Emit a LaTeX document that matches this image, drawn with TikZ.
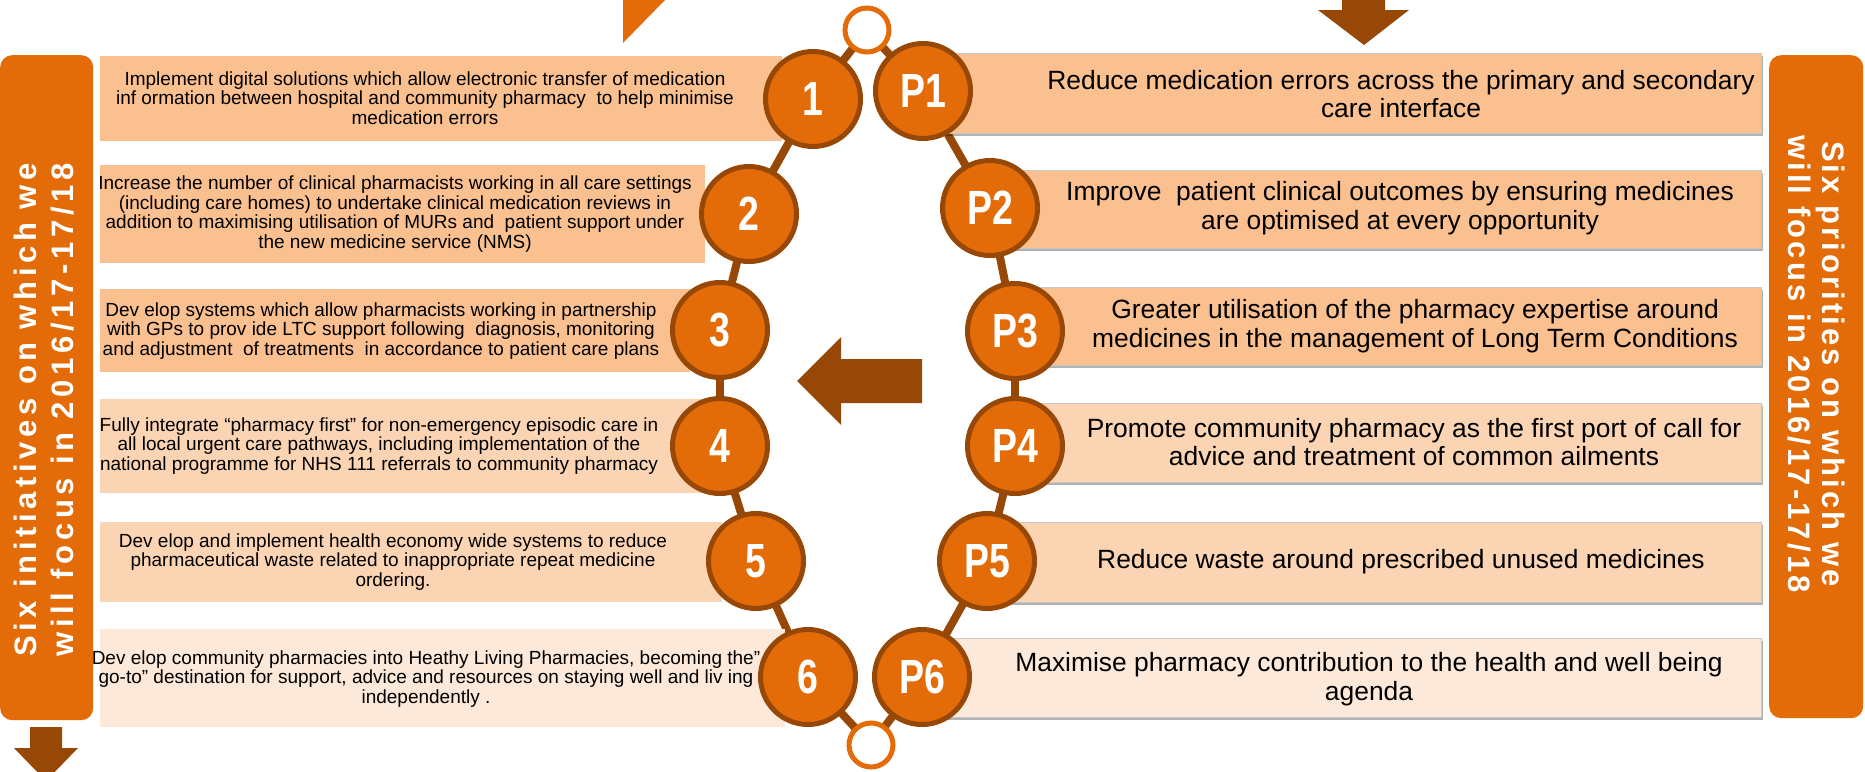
\documentclass[tikz,border=0pt]{standalone}
\usepackage{fontspec}
\setmainfont{Liberation Sans}
\newfontfamily\numfont[FakeStretch=0.78]{Liberation Sans}
\newfontfamily\panelfontL[LetterSpace=15]{Liberation Sans}
\newfontfamily\panelfontR[LetterSpace=10]{Liberation Sans}
\usetikzlibrary{shadows}
\definecolor{acc}{HTML}{E36C09}
\definecolor{dark}{HTML}{974806}
\definecolor{peachA}{HTML}{FAC090}
\definecolor{peachB}{HTML}{FBD4B4}
\definecolor{peachC}{HTML}{FDE9D9}
\pgfdeclarelayer{lnk}
\pgfdeclarelayer{bx}
\pgfsetlayers{lnk,bx,main}
\tikzset{
  circ/.style={circle, fill=acc, draw=dark, line width=5pt, minimum size=95pt, inner sep=0pt, text=white, font=\numfont\bfseries\fontsize{48}{48}\selectfont},
  ring/.style={circle, fill=white, draw=acc, line width=5pt, minimum size=44pt, inner sep=0pt},
  link/.style={draw=dark, line width=8pt},
  lbox/.style={rectangle, draw=none, inner sep=0pt, anchor=north west},
  rbox/.style={rectangle, draw=black!22, line width=0.8pt, inner sep=0pt, anchor=north west, drop shadow={shadow xshift=1.5pt, shadow yshift=-3pt, fill=black, opacity=0.3}},
  ltext/.style={align=center, inner sep=0pt, text=black, font=\fontsize{19}{19.5}\selectfont},
  rtext/.style={align=center, inner sep=0pt, text=black, font=\fontsize{26.4}{28.5}\selectfont},
  panel/.style={rectangle, fill=acc, rounded corners=12pt, inner sep=0pt, anchor=north west},
  ptextL/.style={align=center, inner sep=0pt, text=white, rotate=90, font=\panelfontL\bfseries\fontsize{31}{37}\selectfont},
  ptextR/.style={align=center, inner sep=0pt, text=white, rotate=-90, font=\panelfontR\bfseries\fontsize{31}{34}\selectfont},
}
\begin{document}
\begin{tikzpicture}[x=1pt,y=-1pt]
\useasboundingbox (0,0) rectangle (1865,771);
\clip (0,0) rectangle (1865,771);

% side panels
\node[panel, minimum width=93pt, minimum height=665pt] (lp) at (0,55) {};
\node[ptextL] (lpt) at (44,410) {Six initiatives on which we\\will focus in 2016/17-17/18};
\node[panel, minimum width=94pt, minimum height=663pt] (rp) at (1769,55) {};
\node[ptextR] (rpt) at (1816,364) {Six priorities on which we\\will focus in 2016/17-17/18};

% circles
\node[ring] (rtop) at (867,30) {};
\node[ring] (rbot) at (871,745) {};
\node[circ] (c1) at (813,99) {1};
\node[circ] (c2) at (749,214) {2};
\node[circ] (c3) at (720,330) {3};
\node[circ] (c4) at (720,446) {4};
\node[circ] (c5) at (756,561) {5};
\node[circ] (c6) at (808,677) {6};
\node[circ] (p1) at (923,91) {P1};
\node[circ] (p2) at (990,208) {P2};
\node[circ] (p3) at (1015,331) {P3};
\node[circ] (p4) at (1015,446) {P4};
\node[circ] (p5) at (987,561) {P5};
\node[circ] (p6) at (922,677) {P6};

% links
\begin{pgfonlayer}{lnk}
\draw[link] (rtop.center) -- (c1.center);
\draw[link] (rtop.center) -- (p1.center);
\draw[link] (c1.center) -- (c2.center);
\draw[link] (c2.center) -- (c3.center);
\draw[link] (c3.center) -- (c4.center);
\draw[link] (c4.center) -- (c5.center);
\draw[link] (c5.center) -- (c6.center);
\draw[link] (c6.center) -- (rbot.center);
\draw[link] (p6.center) -- (rbot.center);
\draw[link] (p1.center) -- (p2.center);
\draw[link] (p2.center) -- (p3.center);
\draw[link] (p3.center) -- (p4.center);
\draw[link] (p4.center) -- (p5.center);
\draw[link] (p5.center) -- (p6.center);
\end{pgfonlayer}

% boxes
\begin{pgfonlayer}{bx}
\node[lbox, fill=peachA, minimum width=682pt, minimum height=85pt] (b1) at (100,56) {};
\node[lbox, fill=peachA, minimum width=605pt, minimum height=98pt] (b2) at (100,165) {};
\node[lbox, fill=peachA, minimum width=590pt, minimum height=83pt] (b3) at (100,289) {};
\node[lbox, fill=peachB, minimum width=604pt, minimum height=94pt] (b4) at (100,399) {};
\node[lbox, fill=peachB, minimum width=622pt, minimum height=80pt] (b5) at (100,522) {};
\node[lbox, fill=peachC, minimum width=685pt, minimum height=98pt] (b6) at (100,629) {};
\node[rbox, fill=peachA, minimum width=838pt, minimum height=80pt] (q1) at (923,53) {};
\node[rbox, fill=peachA, minimum width=771pt, minimum height=78pt] (q2) at (990,170) {};
\node[rbox, fill=peachA, minimum width=746pt, minimum height=78pt] (q3) at (1015,287) {};
\node[rbox, fill=peachB, minimum width=746pt, minimum height=79pt] (q4) at (1015,403) {};
\node[rbox, fill=peachB, minimum width=774pt, minimum height=80pt] (q5) at (987,522) {};
\node[rbox, fill=peachC, minimum width=839pt, minimum height=79pt] (q6) at (922,638) {};
\end{pgfonlayer}

% left texts
\node[ltext] (t1) at (425,98) {Implement digital solutions which allow electronic transfer of medication\\inf ormation between hospital and community pharmacy~ to help minimise\\medication errors};
\node[ltext] (t2) at (395,214) {Increase the number of clinical pharmacists working in all care settings\\(including care homes) to undertake clinical medication reviews in\\addition to maximising utilisation of MURs and~ patient support under\\the new medicine service (NMS)};
\node[ltext] (t3) at (381,331) {Dev elop systems which allow pharmacists working in partnership\\with GPs to prov ide LTC support following~ diagnosis, monitoring\\and adjustment~ of treatments~ in accordance to patient care plans};
\node[ltext] (t4) at (379,446) {Fully integrate “pharmacy first” for non-emergency episodic care in\\all local urgent care pathways, including implementation of the\\national programme for NHS 111 referrals to community pharmacy};
\node[ltext] (t5) at (393,562) {Dev elop and implement health economy wide systems to reduce\\pharmaceutical waste related to inappropriate repeat medicine\\ordering.};
\node[ltext] (t6) at (426,679) {Dev elop community pharmacies into Heathy Living Pharmacies, becoming the”\\go-to” destination for support, advice and resources on staying well and liv ing\\independently .};

% right texts
\node[rtext] (u1) at (1401,94) {Reduce medication errors across the primary and secondary\\care interface};
\node[rtext] (u2) at (1400,208) {Improve~ patient clinical outcomes by ensuring medicines\\are optimised at every opportunity};
\node[rtext] (u3) at (1415,326) {Greater utilisation of the pharmacy expertise around\\medicines in the management of Long Term Conditions};
\node[rtext] (u4) at (1414,442) {Promote community pharmacy as the first port of call for\\advice and treatment of common ailments};
\node[rtext] (u5) at (1401,562) {Reduce waste around prescribed unused medicines};
\node[rtext] (u6) at (1369,679) {Maximise pharmacy contribution to the health and well being\\agenda};

% arrows
\fill[acc] (623,0) -- (665,0) -- (623,43) -- cycle;
\fill[dark] (1342,0) -- (1385,0) -- (1385,10) -- (1409,10) -- (1364,45) -- (1318,10) -- (1342,10) -- cycle;
\fill[dark] (797,381) -- (841,337) -- (841,359) -- (922,359) -- (922,403) -- (841,403) -- (841,425) -- cycle;
\fill[dark] (30,727) -- (62,727) -- (62,748) -- (78,748) -- (46,781) -- (14,748) -- (30,748) -- cycle;
\end{tikzpicture}
\end{document}
